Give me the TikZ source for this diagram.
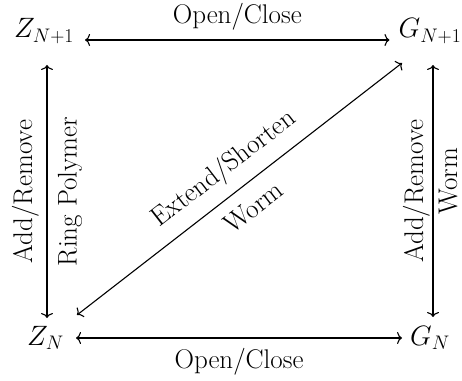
\RequirePackage{fix-cm}
\documentclass[tikz,border=0pt]{standalone}
\usetikzlibrary{arrows.meta}
\begin{document}
\begin{tikzpicture}[x=1pt,y=1pt,
  font=\fontsize{27}{31}\selectfont,
  term/.style={inner sep=0pt, anchor=base, font=\fontsize{28}{32}\selectfont},
  link/.style={{To[length=5pt,width=12pt]}-{To[length=5pt,width=12pt]}, line width=1.1pt},
  lab/.style={inner sep=0pt}]
\useasboundingbox (0,0) rectangle (462,380);
\node[term] (zt) at (44,342) {$Z_{N+1}$};
\node[term] (gt) at (430,342) {$G_{N+1}$};
\node[term] (zb) at (45.5,35) {$Z_N$};
\node[term] (gb) at (430,35) {$G_N$};
% top
\draw[link] ([xshift=11pt,yshift=-2pt]zt.base east) -- ([xshift=-9pt,yshift=-2pt]gt.base west)
  node[lab, midway, anchor=base, yshift=16pt] {Open/Close};
% bottom
\draw[link] ([xshift=12pt,yshift=7pt]zb.base east) -- ([xshift=-8pt,yshift=7pt]gb.base west)
  node[lab, midway, anchor=base, yshift=-30pt] {Open/Close};
% left
\draw[link] ([xshift=3pt,yshift=-27pt]zt.base) -- ([xshift=1.5pt,yshift=27pt]zb.base)
  node[lab, midway, rotate=90, anchor=base, yshift=15pt] {Add/Remove}
  node[lab, midway, rotate=90, anchor=base, yshift=-29.5pt] {Ring Polymer};
% right
\draw[link] ([xshift=3pt,yshift=-27pt]gt.base) -- ([xshift=3pt,yshift=28pt]gb.base)
  node[lab, midway, rotate=90, anchor=base, yshift=10pt] {Add/Remove}
  node[lab, midway, rotate=90, anchor=base, xshift=10pt, yshift=-24pt] {Worm};
% diagonal
\draw[link] ([xshift=31.5pt,yshift=30pt]zb.base) -- ([xshift=-28pt,yshift=-25pt]gt.base)
  node[midway, sloped, above, inner sep=0pt, yshift=11pt] {Extend/Shorten}
  node[midway, sloped, below, inner sep=0pt, yshift=-13pt] {Worm};
\end{tikzpicture}
\end{document}
